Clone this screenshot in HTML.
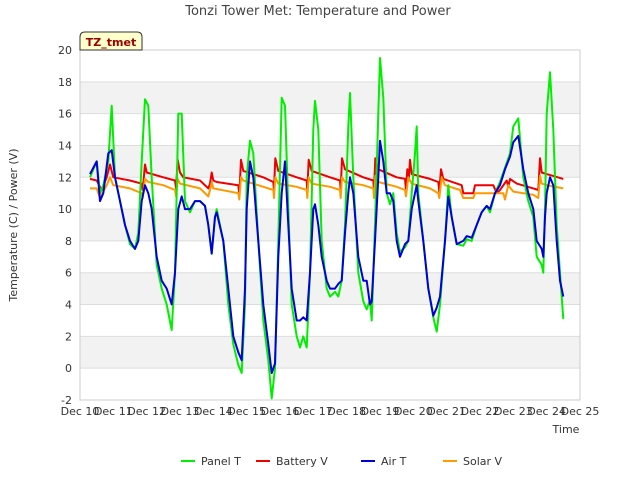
<!DOCTYPE html>
<html><head><meta charset="utf-8"><style>
body{margin:0;background:#fff;}
svg text{font-family:"DejaVu Sans","Liberation Sans",sans-serif;}
</style></head><body>
<svg id="chart" width="640" height="480" xmlns="http://www.w3.org/2000/svg">
<rect width="640" height="480" fill="#fff"/>
<text x="318" y="15" text-anchor="middle" font-size="13" fill="#444">Tonzi Tower Met: Temperature and Power</text>
<g id="bands"></g>
<g id="grid"></g>
<rect x="80" y="50" width="500" height="350" fill="none" stroke="#ccc"/>
<g id="yticks"></g>
<g id="xticks"></g>
<g id="series"></g>
<text transform="translate(17,225) rotate(-90)" text-anchor="middle" font-size="11" fill="#333">Temperature (C) / Power (V)</text>
<text x="566" y="433" text-anchor="middle" font-size="11" fill="#333">Time</text>
<g>
<path d="M80,50 L80,37 Q80,32 85,32 L137,32 Q142,32 142,37 L142,50 Z" fill="#ffffcc" stroke="#333"/>
<text x="111" y="46" text-anchor="middle" font-size="11" font-weight="bold" fill="#990000">TZ_tmet</text>
</g>
<g id="legend"></g>
</svg>
<script>
const yTicks=[-2,0,2,4,6,8,10,12,14,16,18,20];
const xTickLabels=["Dec 10","Dec 11","Dec 12","Dec 13","Dec 14","Dec 15","Dec 16","Dec 17","Dec 18","Dec 19","Dec 20","Dec 21","Dec 22","Dec 23","Dec 24","Dec 25"];
const xTickDays=[10,11,12,13,14,15,16,17,18,19,20,21,22,23,24,25];
const tempTimes=[10.3,10.5,10.6,10.7,10.85,10.95,11.05,11.2,11.35,11.5,11.65,11.75,11.85,11.95,12.05,12.15,12.3,12.45,12.6,12.75,12.85,12.95,13.05,13.15,13.3,13.45,13.6,13.75,13.85,13.95,14.05,14.1,14.3,14.45,14.6,14.75,14.85,14.95,15.0,15.1,15.2,15.35,15.5,15.65,15.75,15.85,15.95,16.05,16.15,16.25,16.35,16.5,16.6,16.7,16.8,16.9,17.0,17.05,17.15,17.25,17.4,17.5,17.65,17.75,17.85,17.95,18.05,18.1,18.2,18.35,18.5,18.6,18.7,18.75,18.85,18.95,19.0,19.1,19.2,19.3,19.4,19.5,19.6,19.75,19.85,19.95,20.05,20.1,20.15,20.3,20.45,20.6,20.7,20.8,20.95,21.05,21.15,21.3,21.5,21.6,21.75,21.9,22.05,22.2,22.3,22.45,22.6,22.75,22.9,23.0,23.15,23.3,23.45,23.6,23.7,23.85,23.9,23.95,24.0,24.1,24.2,24.3,24.4,24.5];
const panelT=[12.0,13,11,11.5,13,16.5,12,10.5,9,7.8,7.5,8.5,13,16.9,16.5,12,6.5,5,4,2.4,6,16,16,10.5,9.8,10.5,10.5,10.2,9,7.2,9.5,10,8,4,1.5,0.2,-0.3,4,12,14.3,13.5,8,3,0.5,-1.9,0,8,17,16.5,10,4,2,1.3,2.0,1.3,6,15,16.8,15,8,5,4.5,4.8,4.5,5.5,9,15.2,17.3,12,6,4.2,3.7,4.3,3,9,16,19.5,17,11,10.3,11,8.5,7.3,7.6,8,11,13.5,15.2,11,8,5,3.2,2.3,4,8,11.5,9.5,7.8,7.7,8.1,8.0,9,9.8,10.2,9.8,11,11.7,12.6,13.5,15.2,15.7,12,10.5,9.5,7,6.5,6,10,16,18.6,15,9,6,3.1];
const airT=[12.2,13,10.5,11,13.5,13.7,12,10.5,9,8,7.5,8,10.5,11.5,11,10,7,5.5,5,4,6,10,10.8,10,10,10.5,10.5,10.2,9,7.2,9.5,9.8,8,5,2,1,0.5,5,10,13,12,8,4,1.5,-0.3,0.3,7,11,13,9,5,3,3,3.2,3,6,10,10.3,9,7,5.5,5,5,5.3,5.5,8.5,11,12,11,7,5.5,5.5,4,4.2,8,12,14.3,13,11,11,10.5,8,7,7.8,8,10,11,11.5,10.5,8,5,3.3,3.8,4.5,8,10.8,9.5,7.8,8,8.3,8.2,9,9.8,10.2,10,11,11.5,12.5,13.3,14.2,14.6,12.5,11,10,8,7.5,7,9.5,11,12,11.5,8,5.5,4.5];
const batTimes=[10.3,10.5,10.65,10.8,10.9,11.0,11.5,11.85,11.88,11.95,12.0,12.5,12.85,12.88,12.93,13.0,13.1,13.6,13.85,13.9,13.95,14.0,14.1,14.75,14.78,14.83,14.9,15.5,15.8,15.82,15.86,15.95,16.5,16.8,16.82,16.86,16.95,17.5,17.8,17.82,17.86,17.95,18.5,18.8,18.82,18.86,18.95,19.5,19.75,19.78,19.82,19.86,19.9,19.95,20.5,20.75,20.78,20.83,20.9,21.45,21.5,21.8,21.85,22.4,22.5,22.6,22.8,22.85,22.9,23.1,23.6,23.75,23.8,23.85,24.0,24.5];
const batteryV=[11.9,11.8,11.2,12.0,12.8,12.0,11.8,11.6,11.2,12.8,12.3,12.0,11.8,11.3,13.1,12.3,12.0,11.8,11.3,11.6,12.3,11.8,11.7,11.5,10.9,13.1,12.4,12.0,11.7,11.2,13.2,12.4,12.0,11.8,11.2,13.1,12.4,12.0,11.8,11.2,13.2,12.5,12.0,11.8,11.2,13.2,12.5,12.0,11.9,11.2,12.5,11.8,13.1,12.2,11.9,11.7,11.1,12.5,11.9,11.5,11.0,11.0,11.5,11.5,11.0,11.2,11.8,11.4,11.9,11.6,11.3,11.2,13.2,12.3,12.2,11.9];
const solTimes=[10.3,10.5,10.6,10.8,10.9,11.0,11.5,11.85,11.88,11.95,12.05,12.5,12.85,12.88,12.93,13.0,13.6,13.85,13.9,13.95,14.0,14.75,14.78,14.83,14.9,15.5,15.8,15.82,15.86,15.95,16.5,16.8,16.82,16.86,16.95,17.5,17.8,17.82,17.86,17.95,18.5,18.8,18.82,18.86,18.95,19.5,19.75,19.78,19.85,19.95,20.5,20.75,20.78,20.85,20.95,21.4,21.5,21.8,21.85,22.7,22.75,22.85,23.0,23.6,23.75,23.8,23.85,24.0,24.5];
const solarV=[11.3,11.3,10.7,11.5,12.0,11.5,11.3,11.0,10.7,11.9,11.7,11.5,11.2,10.8,11.9,11.6,11.3,10.8,11.2,11.7,11.3,11.0,10.6,12.0,11.8,11.4,11.2,10.7,12.0,11.6,11.4,11.2,10.7,12.0,11.6,11.4,11.2,10.7,12.0,11.7,11.5,11.3,10.7,12.1,11.7,11.4,11.2,10.8,12.0,11.6,11.3,11.0,10.7,12.0,11.5,11.2,10.7,10.7,11.0,11.0,10.6,11.5,11.1,10.9,10.7,12.1,11.6,11.5,11.3];

const NS="http://www.w3.org/2000/svg";
const X0=80,X1=580,Y0=400,Y1=50;
const xs=d=>X0+(d-10)/15*(X1-X0);
const ys=v=>Y0-(v+2)/22*(Y0-Y1);
function mk(tag,attrs,parent){const e=document.createElementNS(NS,tag);for(const k in attrs)e.setAttribute(k,attrs[k]);parent.appendChild(e);return e;}
const bands=document.getElementById('bands'),grid=document.getElementById('grid'),yt=document.getElementById('yticks'),xt=document.getElementById('xticks');
for(let i=0;i<yTicks.length-1;i++){
  if(i%2===1){const r=mk('rect',{x:X0,y:ys(yTicks[i+1]),width:X1-X0,height:ys(yTicks[i])-ys(yTicks[i+1]),fill:'#f2f2f2'},bands);
  
  }
}
yTicks.forEach(v=>{
  const l=mk('line',{x1:X0,x2:X1,y1:ys(v),y2:ys(v),stroke:'#ddd'},grid);
  
  
  const t=mk('text',{x:72,y:ys(v)+4,'text-anchor':'end','font-size':11,fill:'#333'},yt);t.textContent=v;
  
  
});
xTickDays.forEach((d,i)=>{
  const t=mk('text',{x:xs(d),y:415,'text-anchor':'middle','font-size':11,fill:'#333'},xt);t.textContent=xTickLabels[i];
  
  
});
const ser=document.getElementById('series');
function line(times,vals,color,name){
  const p=mk('polyline',{points:times.map((t,i)=>xs(t).toFixed(1)+','+ys(vals[i]).toFixed(1)).join(' '),fill:'none',stroke:color,'stroke-width':2,'stroke-linejoin':'round'},ser);
  
  
}
line(batTimes,batteryV,'#ee0000','battery-v-line');
line(solTimes,solarV,'#ff9900','solar-v-line');
line(tempTimes,panelT,'#00ee00','panel-t-line');
line(tempTimes,airT,'#0000dd','air-t-line');
const leg=document.getElementById('legend');
const legNames=["Panel T","Battery V","Air T","Solar V"],legColors=["#00ee00","#ee0000","#0000dd","#ff9900"],legX=[181,256,361,443];
legNames.forEach((n,i)=>{
  const g=mk('g',{},leg);
  
  
  mk('line',{x1:legX[i],x2:legX[i]+14,y1:461,y2:461,stroke:legColors[i],'stroke-width':2},g);
  const t=mk('text',{x:legX[i]+20,y:465,'font-size':11,fill:'#333'},g);t.textContent=n;
});
</script>
</body></html>
